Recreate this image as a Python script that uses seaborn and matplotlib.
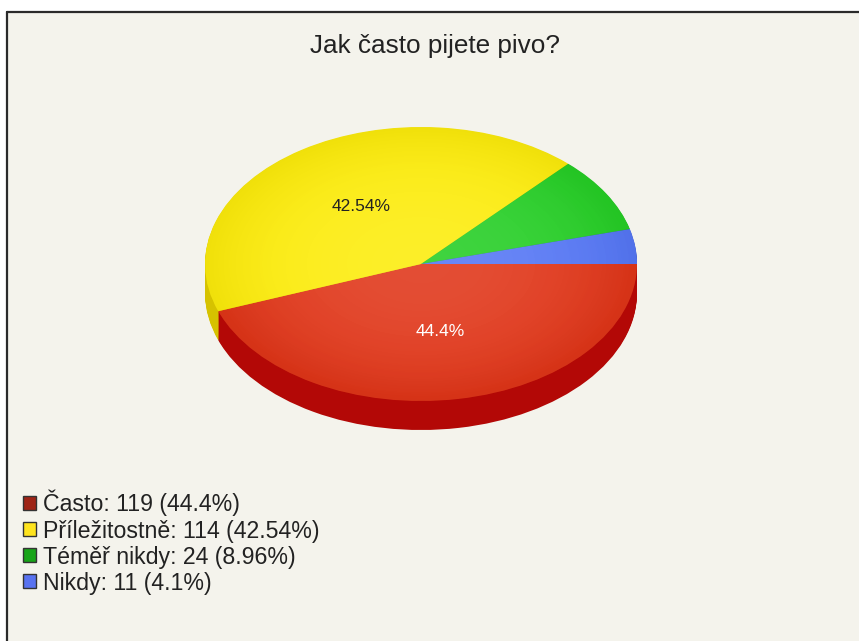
import numpy as np
import matplotlib
matplotlib.use("Agg")
import matplotlib.pyplot as plt
from matplotlib.patches import Patch, Rectangle, Ellipse
from matplotlib.lines import Line2D
import seaborn as sns

# ---- data ----
title = "Jak často pijete pivo?"
categories = ["Často", "Příležitostně", "Téměř nikdy", "Nikdy"]
counts = [119, 114, 24, 11]

top_colors = ["#E03619", "#FCEC0C", "#26CE26", "#5677F5"]
side_colors = ["#B30806", "#D6C200", "#199A19", "#3A55C0"]
legend_colors = ["#9E2416", "#FFE41E", "#18A418", "#5872F0"]

sns.set_style("white")
plt.rcParams["font.family"] = ["Liberation Sans", "DejaVu Sans"]

total = sum(counts)


def fmt_pct(p):
    return f"{round(p, 2):g}%"


legend_labels = [f"{c}: {n} ({fmt_pct(100 * n / total)})" for c, n in zip(categories, counts)]

W, H = 859, 641
fig = plt.figure(figsize=(W / 100, H / 100), dpi=100, facecolor="white")

# background panel with a dark top/left edge
fig.add_artist(Rectangle((7 / W, 0), 1 - 7 / W, 1 - 12 / H, transform=fig.transFigure,
                         facecolor="#F4F3EC", edgecolor="none", zorder=0))
fig.add_artist(Line2D([7 / W, 1], [1 - 12 / H, 1 - 12 / H], transform=fig.transFigure,
                      color="#2a2a2a", lw=1.6))
fig.add_artist(Line2D([7 / W, 7 / W], [0, 1 - 12 / H], transform=fig.transFigure,
                      color="#2a2a2a", lw=1.6))

ax = fig.add_axes([0, 0, 1, 1])
ax.set_facecolor("none")

# pie geometry in pixels
cx, cy, rx, ry, depth = 421, 264, 216, 137, 29

# side wall: stacked darker pies
for d in np.linspace(depth / ry, 0.005, 30):
    ax.pie(counts, colors=side_colors, startangle=0, counterclock=False,
           center=(0, -d), radius=1, wedgeprops=dict(linewidth=0))

# top face
wedges, texts, autotexts = ax.pie(
    counts, colors=top_colors, startangle=0, counterclock=False,
    radius=1, wedgeprops=dict(linewidth=0),
    autopct=lambda p: fmt_pct(p) if p > 10 else "",
    pctdistance=0.5, textprops=dict(fontsize=12.5, color="#222222"))
autotexts[0].set_color("white")

# soft radial shading on top face
g = np.linspace(-1, 1, 300)
xx, yy = np.meshgrid(g, g)
rr = np.sqrt(xx ** 2 + yy ** 2)
light = np.ones((300, 300, 4))
light[..., 3] = np.clip(0.12 * (1 - rr ** 2), 0, 1)
im1 = ax.imshow(light, extent=(-1, 1, -1, 1), aspect="auto", zorder=2.5, interpolation="bilinear")
im1.set_clip_path(Ellipse((0, 0), 2, 2, transform=ax.transData))
dark = np.zeros((300, 300, 4))
dark[..., 3] = np.clip(0.05 * rr ** 4, 0, 1)
im2 = ax.imshow(dark, extent=(-1, 1, -1, 1), aspect="auto", zorder=2.6, interpolation="bilinear")
im2.set_clip_path(Ellipse((0, 0), 2, 2, transform=ax.transData))
for t in autotexts:
    t.set_zorder(5)

ax.set_aspect("auto")
ax.set_xlim(-cx / rx, (W - cx) / rx)
ax.set_ylim(-(H - cy) / ry, cy / ry)
ax.axis("off")

fig.text(435 / W, 1 - 46 / H, title, ha="center", va="center", fontsize=18.8, color="#222222")

handles = [Patch(facecolor=c, edgecolor="#333333", linewidth=1) for c in legend_colors]
fig.legend(handles, legend_labels, loc="upper left", bbox_to_anchor=(23 / W, 1 - 490 / H),
           bbox_transform=fig.transFigure, frameon=False, fontsize=16.7,
           handlelength=0.56, handleheight=0.56, handletextpad=0.3, labelspacing=0.13,
           borderpad=0, borderaxespad=0, labelcolor="#222222")

fig.savefig("out.png", dpi=100, facecolor=fig.get_facecolor())
